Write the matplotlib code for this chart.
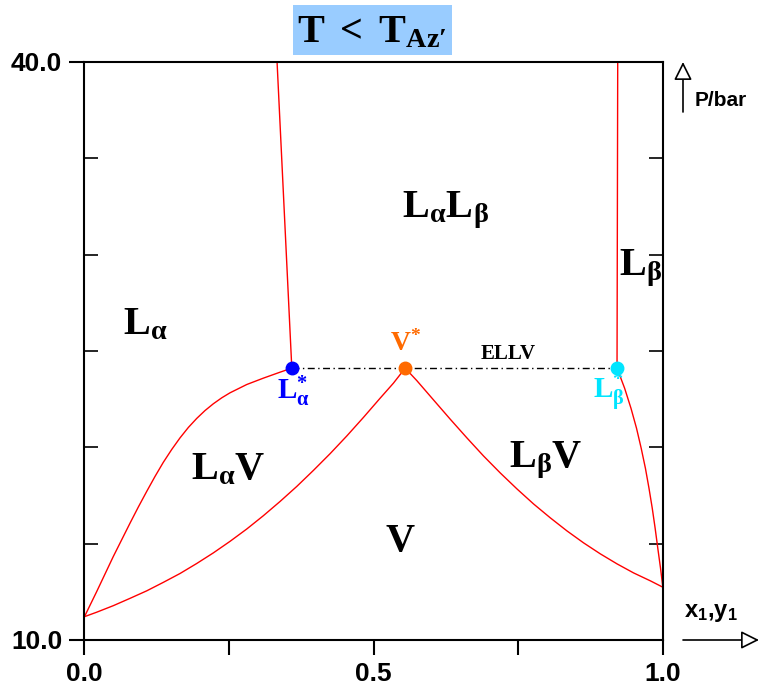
import matplotlib
matplotlib.use('Agg')
import matplotlib.pyplot as plt
from matplotlib.patches import Rectangle

plt.rcParams['mathtext.fontset'] = 'custom'
plt.rcParams['mathtext.rm'] = 'Liberation Serif:bold'
plt.rcParams['mathtext.it'] = 'Liberation Serif:bold'
plt.rcParams['mathtext.bf'] = 'Liberation Serif:bold'
plt.rcParams['mathtext.sf'] = 'Liberation Sans:bold'

# phase boundaries (x1 or y1, P/bar)
la_x = [0.0, 0.0211, 0.0498, 0.0787, 0.0931, 0.1076, 0.1220, 0.1363, 0.1509, 0.1652,
        0.1796, 0.1941, 0.2085, 0.2228, 0.2374, 0.2517, 0.2806, 0.3093, 0.3382, 0.3585]
la_p = [11.21, 12.51, 14.33, 16.06, 16.90, 17.71, 18.49, 19.22, 19.89, 20.49,
        21.03, 21.50, 21.91, 22.26, 22.57, 22.83, 23.26, 23.59, 23.90, 24.11]

va_x = [0.0, 0.021, 0.0498, 0.0787, 0.1076, 0.1363, 0.1652, 0.1941, 0.2228, 0.2517,
        0.2806, 0.3093, 0.3382, 0.3671, 0.3958, 0.4247, 0.4536, 0.4823, 0.5112,
        0.5342, 0.5545]
va_p = [11.21, 11.44, 11.78, 12.16, 12.55, 12.99, 13.45, 13.97, 14.52, 15.12,
        15.76, 16.45, 17.19, 17.97, 18.80, 19.67, 20.59, 21.55, 22.55,
        23.33, 24.11]

vb_x = [0.5545, 0.5747, 0.6035, 0.6324, 0.6612, 0.6900, 0.7189, 0.7478, 0.7765,
        0.8054, 0.8343, 0.8630, 0.8919, 0.9208, 0.9495, 0.9784, 1.0]
vb_p = [24.11, 23.46, 22.46, 21.46, 20.49, 19.55, 18.67, 17.84, 17.06,
        16.34, 15.66, 15.04, 14.47, 13.95, 13.48, 13.07, 12.74]

lb_x = [0.9208, 0.9339, 0.9450, 0.9545, 0.9626, 0.9699, 0.9761, 0.9817, 0.9867,
        0.9913, 0.9960, 1.0]
lb_p = [24.11, 23.07, 22.02, 20.99, 19.95, 18.91, 17.87, 16.84, 15.80,
        14.76, 13.73, 12.74]

lla_x = [0.333, 0.3585]
lla_p = [40.0, 24.11]
llb_x = [0.922, 0.9208]
llb_p = [40.0, 24.11]

p_ellv = 24.11
x_la, x_v, x_lb = 0.3585, 0.5545, 0.9208

fig = plt.figure(figsize=(7.61, 6.88), dpi=100)
ax = fig.add_axes([0.111, 0.0698, 0.76, 0.8401])

red = '#ff0000'
for xs, ps in [(la_x, la_p), (va_x, va_p), (vb_x, vb_p), (lb_x, lb_p), (lla_x, lla_p), (llb_x, llb_p)]:
    ax.plot(xs, ps, color=red, lw=1.0, zorder=2)

ax.plot([x_la, x_lb], [p_ellv, p_ellv], color='black', lw=1.0, dashes=(5, 2.5, 1, 2.5), zorder=1)
ax.plot([x_la], [p_ellv], 'o', color='#0000ff', ms=9, zorder=3, clip_on=False)
ax.plot([x_v], [p_ellv], 'o', color='#ff6a00', ms=9, zorder=3, clip_on=False)
ax.plot([x_lb], [p_ellv], 'o', color='#00e5ff', ms=9, zorder=3, clip_on=False)

ax.set_xlim(0, 1)
ax.set_ylim(10, 40)

# ticks: outward labelled ones, inward minor ones
ax.set_xticks([0, 0.25, 0.5, 0.75, 1.0])
ax.set_xticklabels(['0.0', '', '0.5', '', '1.0'])
ax.set_xticks([0.25, 0.5, 0.75], minor=True)
ax.set_yticks([10, 40])
ax.set_yticklabels(['10.0', '40.0'])
ax.set_yticks([15, 20, 25, 30, 35], minor=True)
ax.tick_params(axis='both', which='major', direction='out', length=11, width=1.5,
               labelsize=19, pad=5)
ax.tick_params(axis='x', which='minor', direction='in', length=10, width=1.2,
               bottom=False, top=True)
ax.tick_params(axis='y', which='minor', direction='in', length=10, width=1.2,
               left=True, right=True)
for lab in ax.get_xticklabels() + ax.get_yticklabels():
    lab.set_fontfamily('Liberation Sans')
    lab.set_fontweight('bold')
for s in ax.spines.values():
    s.set_linewidth(1.5)

# region labels
big = 29
ax.text(0.105, 26.46, r'$\mathrm{L_{\alpha}}$', fontsize=big, ha='center', va='center')
ax.text(0.624, 32.32, r'$\mathrm{L_{\alpha}L_{\beta}}$', fontsize=big, ha='center', va='center')
ax.text(0.961, 29.31, r'$\mathrm{L_{\beta}}$', fontsize=big, ha='center', va='center')
ax.text(0.248, 18.93, r'$\mathrm{L_{\alpha}V}$', fontsize=big, ha='center', va='center')
ax.text(0.797, 19.35, r'$\mathrm{L_{\beta}V}$', fontsize=big, ha='center', va='center')
ax.text(0.546, 15.19, r'$\mathrm{V}$', fontsize=big, ha='center', va='center')
ax.text(0.733, 24.85, 'ELLV', fontsize=15, fontfamily='Liberation Serif', fontweight='bold',
        ha='center', va='center')
ax.text(0.555, 25.45, r'$\mathrm{V^{*}}$', fontsize=20, color='#ff6a00', ha='center', va='center')
ax.text(0.361, 22.9, r'$\mathrm{L^{*}_{\alpha}}$', fontsize=21, color='#0000ff', ha='center', va='center')
ax.text(0.907, 22.9, r'$\mathrm{L^{*}_{\beta}}$', fontsize=21, color='#00e5ff', ha='center', va='center')

# title box
fig.patches.append(Rectangle((293 / 761, 1 - 55 / 688), 159 / 761, 50 / 688,
                             transform=fig.transFigure, facecolor='#99ccff',
                             edgecolor='none', zorder=0))
fig.text(372 / 761, 1 - 31 / 688, r"$\mathrm{T\;<\;T_{Az\prime}}$", fontsize=29,
         ha='center', va='center')

# axis arrows
arrow = dict(arrowstyle='-|>,head_length=1.1,head_width=0.55', facecolor='white',
             edgecolor='black', lw=1.2, shrinkA=0, shrinkB=0)
ax.annotate('', xy=(683 / 761, 1 - 62 / 688), xytext=(683 / 761, 1 - 112 / 688),
            xycoords='figure fraction', textcoords='figure fraction', arrowprops=arrow)
fig.text(695 / 761, 1 - 101 / 688, 'P/bar', fontsize=15, fontfamily='Liberation Sans',
         fontweight='bold', ha='left', va='center')
ax.annotate('', xy=(759 / 761, 1 - 640 / 688), xytext=(683 / 761, 1 - 640 / 688),
            xycoords='figure fraction', textcoords='figure fraction', arrowprops=arrow)
fig.text(684 / 761, 1 - 612 / 688, r'$\mathsf{x_1{,}y_1}$', fontsize=17, ha='left', va='center')

fig.savefig('out.png', dpi=100)
